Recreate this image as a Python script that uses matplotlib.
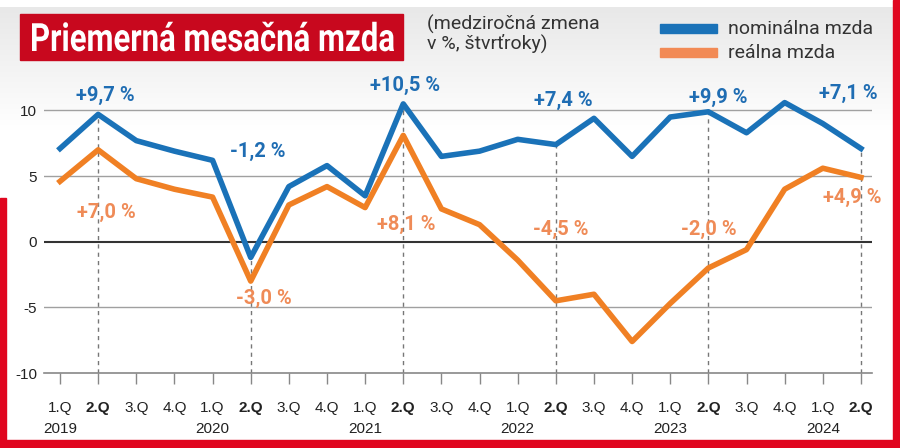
import numpy as np
import matplotlib
matplotlib.use("Agg")
import matplotlib.pyplot as plt
from matplotlib.patches import Rectangle, PathPatch
from matplotlib.textpath import TextPath
from matplotlib.font_manager import FontProperties
from matplotlib.transforms import Affine2D

quarters = ['1.Q', '2.Q', '3.Q', '4.Q'] * 5 + ['1.Q', '2.Q']
years = ['2019', '2020', '2021', '2022', '2023', '2024']
nominal = [7.1, 9.7, 7.7, 6.9, 6.2, -1.2, 4.2, 5.8, 3.5, 10.5, 6.5,
           6.9, 7.8, 7.4, 9.4, 6.5, 9.5, 9.9, 8.3, 10.6, 9.0, 7.1]
real = [4.6, 7.0, 4.8, 4.0, 3.4, -3.0, 2.8, 4.2, 2.6, 8.1, 2.5,
        1.3, -1.4, -4.5, -4.0, -7.6, -4.7, -2.0, -0.6, 4.0, 5.6, 4.9]
nominal_labels = ['+9,7 %', '-1,2 %', '+10,5 %', '+7,4 %', '+9,9 %', '+7,1 %']
real_labels = ['+7,0 %', '-3,0 %', '+8,1 %', '-4,5 %', '-2,0 %', '+4,9 %']

plt.rcParams['font.family'] = ['Liberation Sans', 'DejaVu Sans']

BLUE = '#1a72b8'
ORANGE = '#f08024'
BLUE_TXT = '#1f6db3'
ORANGE_TXT = '#ef8b57'
RED = '#e0061f'

fig = plt.figure(figsize=(9, 4.48), dpi=100)

# background gradient + overlay in pixel coords
bg = fig.add_axes([0, 0, 1, 1], zorder=-10)
grad = np.ones((448, 1))
for r in range(448):
    if 7 <= r < 130:
        grad[r] = 0.91 + 0.09 * (r - 7) / 123
bg.imshow(np.dstack([grad] * 3), aspect='auto', extent=[0, 900, 448, 0])
bg.set_xlim(0, 900)
bg.set_ylim(448, 0)
bg.axis('off')

# red frame pieces
bg.add_patch(Rectangle((893, 0), 7, 448, color=RED))
bg.add_patch(Rectangle((0, 440), 900, 8, color=RED))
bg.add_patch(Rectangle((0, 198), 6, 250, color=RED))

# title box with condensed text
bg.add_patch(Rectangle((20, 14), 383, 46, color='#c8081e'))
tp = TextPath((0, 0), 'Priemerná mesačná mzda', size=39,
              prop=FontProperties(family='Roboto', weight='bold'))
ext = tp.get_extents()
sx = 362 / ext.width
tr = Affine2D().translate(-ext.x0, 0).scale(sx, -1).translate(32, 51)
bg.add_patch(PathPatch(tr.transform_path(tp), color='white', lw=0))

bg.text(427, 34, '(medziročná zmena\nv %, štvrťroky)', color='#333333',
        fontsize=14, family='Roboto', ha='left', va='center', linespacing=0.95)

# legend
bg.add_patch(Rectangle((660, 24), 57, 9, color=BLUE))
bg.add_patch(Rectangle((660, 48), 57, 9, color='#f28a55'))
bg.text(728, 29, 'nominálna mzda', color='#333333', fontsize=14, family='Roboto', va='center')
bg.text(728, 53, 'reálna mzda', color='#333333', fontsize=14, family='Roboto', va='center')

ax = fig.add_axes([44 / 900, 75 / 448, 828 / 900, (373 - 84.2) / 448])
ax.patch.set_alpha(0)
x = np.arange(len(nominal))

for v in [10, 5, -5]:
    ax.axhline(v, color='#a0a0a0', lw=1, zorder=1)
ax.axhline(0, color='#333333', lw=1.5, zorder=1)

q2 = [i for i, q in enumerate(quarters) if q == '2.Q']
for i in q2:
    ax.plot([i, i], [-10, nominal[i]], ls=(0, (3, 3)), color='#777777', lw=1, zorder=2)

ax.plot(x, real, color=ORANGE, lw=4, zorder=3)
ax.plot(x, nominal, color=BLUE, lw=4, zorder=4)

ax.set_xlim(-0.42, 21.29)
ax.set_ylim(-10, 12)
for s in ['top', 'right', 'left']:
    ax.spines[s].set_visible(False)
ax.spines['bottom'].set_color('#888888')
ax.spines['bottom'].set_linewidth(1.2)
ax.set_yticks([-10, -5, 0, 5, 10])
ax.set_yticklabels(['-10', '-5', '0', '5', '10'], fontsize=11, color='#222222')
ax.tick_params(axis='y', length=0, pad=5)
ax.set_xticks(x)
ax.set_xticklabels(quarters, fontsize=11, color='#222222')
for i, t in enumerate(ax.get_xticklabels()):
    if quarters[i] == '2.Q':
        t.set_fontweight('bold')
ax.tick_params(axis='x', length=8, width=1, color='#888888', pad=12)

first_q = [i for i, q in enumerate(quarters) if q == '1.Q']
for i, yr in zip(first_q, years):
    ax.text(i, -14.3, yr, fontsize=11, color='#222222', ha='center', va='center')

# annotations
nom_pos = [(105, 95), (258, 152), (405, 85), (563, 100), (718, 97), (848, 93)]
real_pos = [(106, 213), (264, 299), (406, 225), (561, 230), (709, 230), (852, 198)]


def to_data(px, py):
    return (px - 60) / 38.14, (242 - py) / 13.15


for lab, (px, py) in zip(nominal_labels, nom_pos):
    dx, dy = to_data(px, py)
    ax.text(dx, dy, lab, color=BLUE_TXT, fontsize=14.5, fontweight='bold', family='Roboto',
            ha='center', va='center', clip_on=False, zorder=6)
for lab, (px, py) in zip(real_labels, real_pos):
    dx, dy = to_data(px, py)
    ax.text(dx, dy, lab, color=ORANGE_TXT, fontsize=14.5, fontweight='bold', family='Roboto',
            ha='center', va='center', clip_on=False, zorder=6)

fig.savefig('out.png', dpi=100)
